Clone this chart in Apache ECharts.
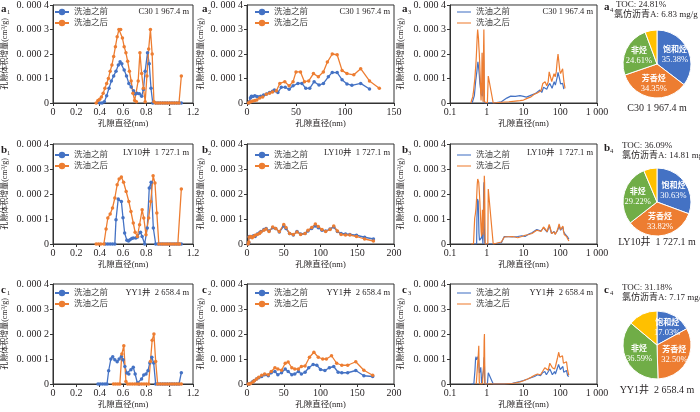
<!DOCTYPE html>
<html>
<head>
<meta charset="utf-8">
<script src="https://cdn.jsdelivr.net/npm/echarts@6/dist/echarts.min.js"></script>
<style>
html, body { margin: 0; padding: 0; background: #fff; }
#chart { width: 700px; height: 412px; }
</style>
</head>
<body>
<div id="chart"></div>
<script>
// pore volume increments are given in units of 1e-4 cm3/g, pore diameter in nm
const WELLS = ['C30 1 967.4 m', 'LY10井  1 727.1 m', 'YY1井  2 658.4 m'];
const SERIES_NAMES = ['洗油之前', '洗油之后'];

// micropores (0 - 1.2 nm)
const A1_BEFORE = [[0.40,0],[0.42,0],[0.44,0.05],[0.46,0.3],[0.48,0.6],[0.50,0.9],[0.52,1.1],[0.54,1.3],[0.56,1.55],[0.575,1.68],[0.59,1.6],[0.61,1.35],[0.63,1.1],[0.65,0.8],[0.67,0.65],[0.69,0.5],[0.705,0.37],[0.72,0.4],[0.74,0.38],[0.76,0.28],[0.775,0.55],[0.79,1.3],[0.81,2.05],[0.825,1.6],[0.84,0.6],[0.855,0],[0.88,0],[0.90,0],[0.92,0],[0.94,0],[0.96,0],[0.98,0],[1.00,0],[1.02,0],[1.04,0],[1.06,0],[1.08,0],[1.10,0]];
const A1_AFTER = [[0.37,0],[0.385,0.1],[0.40,0.15],[0.415,0.25],[0.43,0.4],[0.445,0.6],[0.46,0.8],[0.475,1.0],[0.49,1.3],[0.505,1.55],[0.52,1.9],[0.535,2.3],[0.55,2.7],[0.565,3.0],[0.58,3.0],[0.595,2.65],[0.61,2.3],[0.625,2.05],[0.64,1.7],[0.655,1.3],[0.67,0.9],[0.685,0.4],[0.70,0.1],[0.715,0.05],[0.73,0.9],[0.745,2.05],[0.76,1.2],[0.775,0.6],[0.79,0.05],[0.805,1.1],[0.82,2.2],[0.835,3.0],[0.85,2.0],[0.865,0.05],[0.88,0],[0.90,0],[0.92,0],[0.94,0],[0.96,0],[0.98,0],[1.00,0],[1.02,0],[1.04,0],[1.06,0],[1.08,0],[1.10,1.1]];
const B1_BEFORE = [[0.45,0],[0.47,0],[0.49,0],[0.51,0],[0.53,0],[0.54,0.97],[0.559,1.8],[0.586,1.7],[0.60,1.05],[0.614,0.44],[0.633,0.15],[0.647,0.12],[0.66,0.17],[0.675,0.22],[0.688,0.24],[0.71,0.24],[0.725,0.28],[0.75,0.47],[0.764,0.3],[0.786,0],[0.808,0.64],[0.825,2.24],[0.841,2.47],[0.86,0.64],[0.88,0],[0.90,0],[0.92,0],[0.94,0],[0.96,0],[0.98,0],[1.00,0],[1.02,0],[1.04,0],[1.06,0],[1.08,0],[1.10,0]];
const B1_AFTER = [[0.37,0],[0.39,0],[0.41,0],[0.436,0],[0.455,0.6],[0.47,1.04],[0.49,1.2],[0.51,1.44],[0.53,1.84],[0.55,2.37],[0.567,2.6],[0.586,2.68],[0.605,2.47],[0.627,2.1],[0.65,1.7],[0.668,1.3],[0.688,0.84],[0.704,0.47],[0.723,0.3],[0.742,0.77],[0.764,1.37],[0.778,1.04],[0.797,0.37],[0.82,1.04],[0.838,1.7],[0.858,2.73],[0.874,2.44],[0.89,1.24],[0.907,0],[0.93,0],[0.95,0],[0.97,0],[0.99,0],[1.01,0],[1.03,0],[1.05,0],[1.07,0],[1.085,0],[1.10,2.2]];
const C1_BEFORE = [[0.386,0],[0.405,0],[0.425,0],[0.445,0],[0.463,0],[0.477,0.53],[0.496,1.0],[0.512,1.09],[0.53,0.97],[0.55,0.89],[0.567,1.0],[0.586,1.1],[0.60,0.97],[0.616,0.7],[0.633,0.44],[0.65,0.4],[0.668,0.57],[0.688,0.67],[0.704,0.4],[0.723,0.04],[0.737,0],[0.759,0.2],[0.778,0.36],[0.797,0.4],[0.814,0.53],[0.83,0.84],[0.847,1.07],[0.863,0.84],[0.88,0],[0.90,0],[0.92,0],[0.94,0],[0.96,0],[0.98,0],[1.00,0],[1.02,0],[1.04,0],[1.06,0],[1.08,0],[1.10,0.45]];
const C1_AFTER = [[0.518,0],[0.536,0],[0.555,0],[0.573,0],[0.59,1.2],[0.607,1.53],[0.625,0.1],[0.64,0],[0.66,0],[0.68,0],[0.70,0],[0.72,0],[0.74,0],[0.76,0],[0.78,0],[0.80,0],[0.82,0],[0.835,0.9],[0.85,1.75],[0.865,2.0],[0.88,0.9],[0.897,0],[0.92,0],[0.94,0],[0.96,0],[0.98,0],[1.00,0],[1.02,0],[1.04,0],[1.06,0],[1.08,0],[1.10,0]];

// mesopores (1.5 - 175 nm)
const A2_BEFORE = [[1.5,0],[2.5,0.05],[3.5,0.2],[4.5,0.28],[6,0.27],[8,0.3],[10,0.27],[12,0.24],[14,0.28],[17,0.33],[20,0.37],[23,0.43],[26,0.48],[28,0.53],[31.5,0.43],[35,0.64],[39,0.64],[43,0.56],[47,0.7],[52,0.8],[56,0.8],[60,0.6],[64,0.6],[68.5,0.87],[73.5,0.73],[78,0.8],[83,1.07],[87,1.25],[92,1.24],[97,0.95],[102,0.78],[107,0.72],[116,0.8],[125,0.57]];
const A2_AFTER = [[1.5,0],[2.5,0.03],[4,0.05],[6,0.08],[8,0.1],[10,0.12],[13,0.2],[16,0.25],[19.6,0.36],[23,0.4],[26,0.45],[30,0.5],[33.5,0.8],[38.6,0.87],[43,0.7],[47,0.87],[50,1.27],[54.6,1.27],[58.6,0.87],[63,0.9],[67.8,1.2],[72.8,1.07],[77.9,1.27],[82,1.67],[87,2.0],[92,1.97],[97,1.33],[102,1.2],[109,1.15],[116,1.4],[125,0.9],[135,0.6]];
const B2_BEFORE = [[1.5,0],[2.5,0.05],[3,0.3],[5,0.28],[7,0.3],[9,0.33],[11,0.3],[14,0.4],[17,0.45],[19,0.5],[23,0.58],[26,0.62],[30,0.52],[35,0.65],[39,0.62],[44,0.48],[50,0.72],[53,0.62],[58,0.42],[63,0.36],[68,0.5],[73,0.4],[79,0.42],[83,0.52],[88,0.62],[93,0.72],[97,0.65],[102,0.55],[107,0.52],[113,0.6],[118,0.68],[123,0.5],[128,0.42],[134,0.4],[140,0.38],[149,0.35],[160,0.27],[172,0.2]];
const B2_AFTER = [[1.5,0],[2.5,0.08],[3,0.28],[5,0.3],[7,0.25],[9,0.3],[11,0.35],[14,0.38],[17,0.42],[19,0.48],[23,0.55],[26,0.6],[30,0.5],[35,0.68],[39,0.62],[44,0.5],[50,0.78],[53,0.66],[58,0.42],[63,0.38],[68,0.48],[73,0.38],[79,0.42],[83,0.55],[88,0.66],[93,0.8],[97,0.7],[102,0.58],[107,0.5],[113,0.58],[118,0.72],[123,0.52],[128,0.38],[134,0.36],[140,0.36],[149,0.3],[160,0.2],[172,0.12]];
const C2_BEFORE = [[1.5,0],[3,0],[5,0.03],[8,0.1],[10,0.14],[13,0.2],[16,0.25],[20,0.3],[24,0.37],[29,0.33],[33,0.45],[38,0.5],[42,0.37],[47,0.45],[52,0.6],[56,0.5],[61,0.37],[65,0.4],[70,0.5],[74,0.4],[79,0.47],[84,0.65],[90,0.78],[95,0.75],[100,0.58],[106,0.54],[112,0.65],[118,0.7],[124,0.47],[129,0.45],[137,0.45],[148,0.54],[159,0.33],[171,0.3]];
const C2_AFTER = [[1.5,0],[3,0],[5,0.02],[8,0.08],[10,0.13],[13,0.2],[16,0.27],[20,0.35],[24,0.4],[29,0.37],[33,0.5],[38,0.65],[42,0.6],[47,0.55],[52,0.83],[56,0.88],[61,0.65],[65,0.6],[70,0.6],[74,0.7],[79,0.72],[85,1.07],[91,1.27],[97,1.07],[103,1.0],[108,1.0],[115,1.13],[122,0.83],[129,0.75],[137,0.75],[148,0.89],[159,0.55],[171,0.35]];

// group composition (%) and geochemistry
const COMPONENTS = ['饱和烃', '芳香烃', '非烃', '沥青质'];
const A4_SHARE = [35.38, 34.35, 24.61, 5.66];
const B4_SHARE = [30.63, 33.82, 29.22, 6.33];
const C4_SHARE = [17.03, 32.50, 36.59, 13.88];
const TOC = ['24.81%', '36.09%', '31.18%'];
const CHLOROFORM_A = ['6.83 mg/g', '14.81 mg/g', '7.17 mg/g'];

const X2_MAX = [150, 200, 200];

const MICRO = [[A1_BEFORE, A1_AFTER], [B1_BEFORE, B1_AFTER], [C1_BEFORE, C1_AFTER]];
const MESO = [[A2_BEFORE, A2_AFTER], [B2_BEFORE, B2_AFTER], [C2_BEFORE, C2_AFTER]];
const SHARES = [A4_SHARE, B4_SHARE, C4_SHARE];

// layout
const FONT = '"Liberation Serif", "Noto Sans CJK SC", serif';
const INK = '#231f20';
const BLUE = '#4472c4', ORANGE = '#ed7d31';
const LINE_COLORS = [BLUE, ORANGE];
const PIE_COLORS = ['#4472c4', '#ed7d31', '#70ad47', '#ffc000'];
const ROW_TOP = [3, 144, 284];
const PLOT_H = 100;
const COL_LEFT = [47, 247, 450];
const COL_W = [146, 147, 147];
const Y_NAME_GAP = [44, 42, 45];
const PIE_CENTER = [[657, 64], [657, 202], [657, 345]];
const ROW_LETTER = ['a', 'b', 'c'];

const grid = [], xAxis = [], yAxis = [], series = [], legend = [], graphic = [];

function yTick(v) {
    return v === 0 ? '0' : '0. 000 ' + v;
}

function text(x, y, str, size, opts) {
    graphic.push({
        type: 'text', x: x, y: y, silent: true,
        style: Object.assign({
            text: str, fontSize: size, fontFamily: FONT, fill: INK,
            align: 'left', verticalAlign: 'middle'
        }, opts || {})
    });
}

const LINE_ICON = 'path://M0,0H40V3H0Z';

for (let r = 0; r < 3; r++) {
    for (let c = 0; c < 3; c++) {
        const i = grid.length;
        grid.push({
            left: COL_LEFT[c], top: ROW_TOP[r], width: COL_W[c], height: PLOT_H,
            show: true, borderColor: '#333', borderWidth: 1
        });
        const axisCommon = {
            gridIndex: i,
            axisLine: { onZero: false, lineStyle: { color: '#333', width: 1 } },
            axisTick: { show: true, length: 3, lineStyle: { color: '#333' } },
            splitLine: { show: false }
        };
        let x;
        if (c === 0) x = { type: 'value', min: 0, max: 1.2, interval: 0.2 };
        else if (c === 1) x = { type: 'value', min: 0, max: X2_MAX[r], interval: 50 };
        else x = { type: 'log', logBase: 10, min: 0.1, max: 1000 };
        xAxis.push(Object.assign({}, axisCommon, x, {
            name: '孔隙直径(nm)', nameLocation: 'middle', nameGap: 17,
            nameTextStyle: { fontSize: 8.5, fontFamily: FONT, color: INK },
            axisLabel: {
                fontSize: 10, fontFamily: FONT, color: INK, margin: 4,
                formatter: v => v >= 1000 ? '1 000' : String(v)
            }
        }));
        yAxis.push(Object.assign({}, axisCommon, {
            type: 'value', min: 0, max: 4, interval: 1,
            name: '孔隙体积增量(cm³/g)', nameLocation: 'middle', nameGap: Y_NAME_GAP[c],
            nameTextStyle: { fontSize: 8, fontFamily: FONT, color: INK },
            axisLabel: { fontSize: 10, fontFamily: FONT, color: INK, margin: 4, formatter: yTick }
        }));

        for (let s = 0; s < 2; s++) {
            let data;
            if (c === 0) data = MICRO[r][s];
            else if (c === 1) data = MESO[r][s];
            else data = MICRO[r][s].concat(MESO[r][s]);
            series.push({
                type: 'line', name: SERIES_NAMES[s],
                xAxisIndex: i, yAxisIndex: i, data: data,
                symbol: c < 2 ? 'circle' : 'none', symbolSize: 3.5, showSymbol: c < 2,
                lineStyle: { color: LINE_COLORS[s], width: c < 2 ? 1.3 : 1.2 },
                itemStyle: { color: LINE_COLORS[s] },
                silent: true
            });
        }

        legend.push({
            orient: 'vertical', left: COL_LEFT[c] + 7, top: ROW_TOP[r] + [4, 6, 4][r],
            padding: 0, itemWidth: 14, itemHeight: 8, itemGap: 1, selectedMode: false,
            textStyle: { fontSize: 8.5, lineHeight: 10, fontFamily: FONT, color: '#404040' },
            data: SERIES_NAMES.map((n, s) => c < 2 ? n : { name: n, icon: LINE_ICON, itemStyle: { color: LINE_COLORS[s] } })
        });

        // well label, top right
        text(COL_LEFT[c] + COL_W[c] - 4, ROW_TOP[r] + 9, WELLS[r], 8.5, { align: 'right' });
        // panel label
        const px = [1, 202, 402][c];
        text(px, ROW_TOP[r] + 1, ROW_LETTER[r], 11, { fontWeight: 'bold', verticalAlign: 'top' });
        text(px + 6, ROW_TOP[r] + 6, String(c + 1), 6.5, { verticalAlign: 'top' });
    }

    // pie of group composition
    series.push({
        type: 'pie', center: PIE_CENTER[r], radius: 34, startAngle: 90, clockwise: true,
        silent: true,
        itemStyle: { borderColor: '#fff', borderWidth: 1 },
        labelLine: { show: false },
        label: {
            position: 'inside', fontFamily: FONT, lineHeight: 10,
            formatter: p => '{n|' + p.name + '}\n{p|' + p.value.toFixed(2) + '%}',
            rich: {
                n: { fontSize: 8, fontWeight: 'bold', color: '#fff', fontFamily: FONT, lineHeight: 10 },
                p: { fontSize: 8.5, color: '#fff', fontFamily: FONT, lineHeight: 10 }
            }
        },
        data: COMPONENTS.map((n, k) => ({ name: n, value: SHARES[r][k], itemStyle: { color: PIE_COLORS[k] } }))
    });

    const tx = r === 0 ? 616 : 622;
    const ty = [5, 146, 288][r];
    text(604, ty - 3, ROW_LETTER[r], 11, { fontWeight: 'bold', verticalAlign: 'top' });
    text(610, ty + 2, '4', 6.5, { verticalAlign: 'top' });
    text(tx, ty, 'TOC: ' + TOC[r], 9);
    text(r === 0 ? 614 : 622, ty + 10, '氯仿沥青A: ' + CHLOROFORM_A[r], 9);
    text(PIE_CENTER[r][0], [108, 242, 390][r], WELLS[r], 10, { align: 'center' });
}

const chart = echarts.init(document.getElementById('chart'), null, { renderer: 'canvas' });
chart.setOption({
    animation: false,
    backgroundColor: '#fff',
    grid: grid,
    xAxis: xAxis,
    yAxis: yAxis,
    legend: legend,
    series: series,
    graphic: graphic
});
</script>
</body>
</html>
